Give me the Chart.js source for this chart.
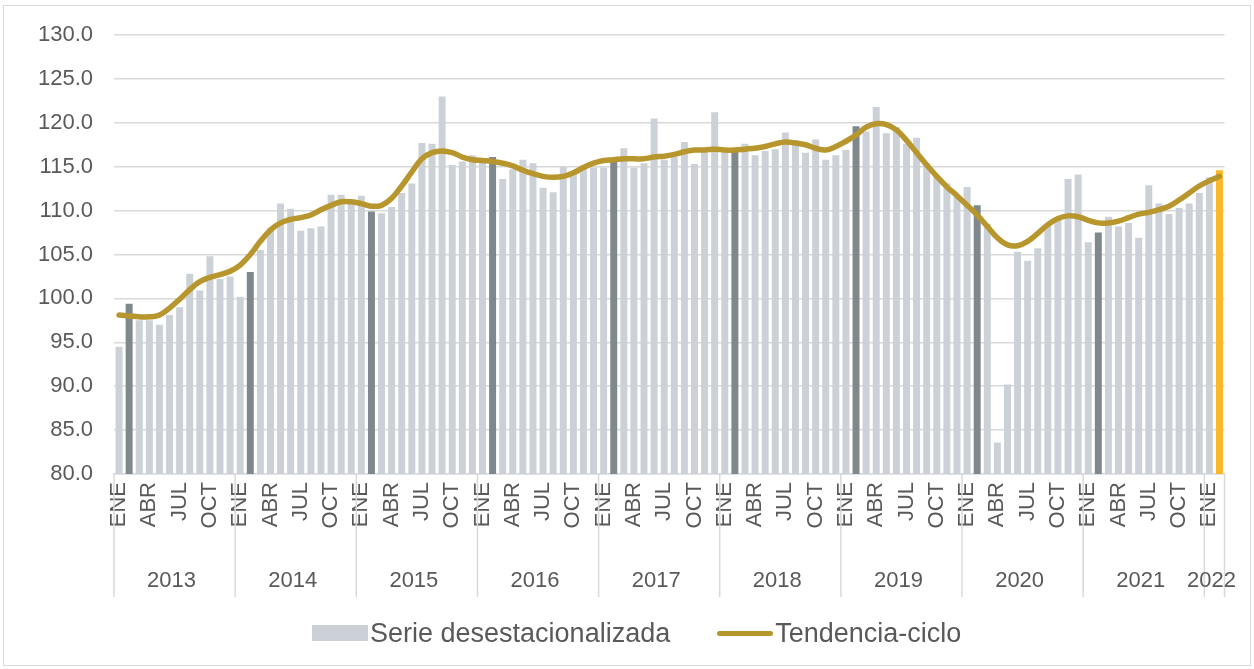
<!DOCTYPE html>
<html>
<head>
<meta charset="utf-8">
<script src="https://cdn.jsdelivr.net/npm/chart.js@4.4.0/dist/chart.umd.min.js"></script>
<style>
  html, body { margin: 0; padding: 0; background: #fff; }
  #wrap { position: relative; width: 1254px; height: 669px; }
  #frame { position: absolute; left: 3px; top: 5px; width: 1246px; height: 659px; border: 1px solid #d9d9d9; }
  canvas { position: absolute; left: 0; top: 0; }
  #legend { position: absolute; top: 618px; left: 312px; display: flex; align-items: center;
            font: 27px 'Liberation Sans', Arial, sans-serif; color: #595959; line-height: 30px; }
  #legend .box { width: 56px; height: 16px; margin-right: 2px; }
  #legend .ln { width: 56px; height: 5px; border-radius: 3px; margin-left: 47px; margin-right: 2px; }
</style>
</head>
<body>
<div id="wrap">
  <div id="frame"></div>
  <canvas id="chart" width="1254" height="669"></canvas>
  <div id="legend">
    <span class="box" id="lgBar"></span><span>Serie desestacionalizada</span>
    <span class="ln" id="lgLine"></span><span>Tendencia-ciclo</span>
  </div>
</div>
<script>
const monthNames = ['ENE', 'FEB', 'MAR', 'ABR', 'MAY', 'JUN', 'JUL', 'AGO', 'SEP', 'OCT', 'NOV', 'DIC'];
const years = ['2013', '2014', '2015', '2016', '2017', '2018', '2019', '2020', '2021', '2022'];
const yTicks = [80, 85, 90, 95, 100, 105, 110, 115, 120, 125, 130];

// serie desestacionalizada, ENE 2013 - FEB 2022
const serie = [
  94.5, 99.4, 97.5, 97.5, 97.0, 98.1, 99.0, 102.8, 100.9, 104.8, 102.2, 102.5,
  100.2, 103.0, 105.5, 108.0, 110.8, 110.2, 107.7, 108.0, 108.2, 111.8, 111.8, 111.2,
  111.7, 109.9, 109.7, 110.4, 112.0, 113.1, 117.7, 117.6, 123.0, 115.2, 115.6, 116.3,
  115.5, 116.1, 113.6, 114.7, 115.8, 115.4, 112.6, 112.1, 115.0, 114.3, 114.8, 114.9,
  114.9, 115.6, 117.1, 114.9, 115.4, 120.5, 115.8, 116.1, 117.8, 115.3, 116.7, 121.2,
  116.7, 116.7, 117.6, 116.3, 116.8, 117.0, 118.9, 118.0, 116.6, 118.1, 115.8, 116.3,
  116.9, 119.6, 119.0, 121.8, 118.8, 119.5, 117.6, 118.3, 115.4, 113.9, 113.1, 111.6,
  112.7, 110.6, 108.5, 83.6, 90.2, 105.3, 104.3, 105.7, 108.4, 109.1, 113.6, 114.1,
  106.4, 107.5, 109.3, 108.2, 108.6, 106.9, 112.9, 110.8, 109.6, 110.3, 110.8, 112.0,
  113.8, 114.6
];

// tendencia-ciclo
const tendencia = [
  98.1, 98.0, 97.9, 97.9, 98.1, 98.9, 99.9, 101.0, 101.9, 102.4, 102.7, 103.1,
  103.8, 105.0, 106.5, 107.8, 108.6, 109.0, 109.2, 109.5, 110.1, 110.6, 111.0, 111.0,
  110.8, 110.5, 110.6, 111.4, 112.8, 114.4, 115.9, 116.6, 116.8, 116.6, 116.1, 115.8,
  115.7, 115.6, 115.4, 115.1, 114.6, 114.2, 113.9, 113.8, 113.9, 114.3, 114.9, 115.4,
  115.7, 115.8, 115.9, 115.9, 115.9, 116.1, 116.2, 116.4, 116.7, 116.9, 116.9, 117.0,
  116.9, 116.9, 117.0, 117.1, 117.3, 117.6, 117.8, 117.7, 117.5, 117.1, 116.9, 117.3,
  117.9, 118.6, 119.5, 119.9, 119.8, 119.2, 118.0, 116.6, 115.2, 113.9, 112.7, 111.7,
  110.6, 109.5, 108.2, 106.9, 106.1, 106.0, 106.5, 107.4, 108.4, 109.1, 109.4, 109.3,
  108.9, 108.6, 108.6, 108.8, 109.2, 109.6, 109.8, 110.1, 110.5, 111.2, 112.0, 112.8,
  113.4, 113.9
];

const BAR = '#cbd1d7', BAR_FEB = '#7f888d', BAR_LAST = '#fbb829', LINE = '#b8962e';
const TXT = '#595959', GRID = '#d9d9d9';
const FONT = "'Liberation Sans', Arial, sans-serif";

const labels = serie.map((_, i) => monthNames[i % 12]);
const yearOf = serie.map((_, i) => years[Math.floor(i / 12)]);
const barColors = serie.map((_, i) =>
  i === serie.length - 1 ? BAR_LAST : (i % 12 === 1 ? BAR_FEB : BAR));

document.getElementById('lgBar').style.background = BAR;
document.getElementById('lgLine').style.background = LINE;

// year row under the month labels, with separators
const yearGroups = {
  id: 'yearGroups',
  afterDraw(chart) {
    const { ctx } = chart;
    const x = chart.scales.x;
    const half = (x.getPixelForValue(1) - x.getPixelForValue(0)) / 2;
    const top = x.top, bottom = 597;
    ctx.save();
    ctx.strokeStyle = GRID;
    ctx.lineWidth = 1.5;
    ctx.fillStyle = TXT;
    ctx.font = '22px ' + FONT;
    ctx.textAlign = 'center';
    ctx.textBaseline = 'middle';
    let start = 0;
    for (let i = 1; i <= yearOf.length; i++) {
      if (i === yearOf.length || yearOf[i] !== yearOf[start]) {
        const x0 = x.getPixelForValue(start) - half;
        const x1 = x.getPixelForValue(i - 1) + half;
        ctx.beginPath();
        ctx.moveTo(x0, top); ctx.lineTo(x0, bottom);
        if (i === yearOf.length) { ctx.moveTo(x1, top); ctx.lineTo(x1, bottom); }
        ctx.stroke();
        ctx.fillText(yearOf[start], (x0 + x1) / 2 - 3, 581);
        start = i;
      }
    }
    ctx.restore();
  }
};

new Chart(document.getElementById('chart'), {
  data: {
    labels: labels,
    datasets: [
      {
        type: 'line',
        label: 'Tendencia-ciclo',
        data: tendencia,
        borderColor: LINE,
        borderWidth: 5.5,
        borderCapStyle: 'round',
        pointRadius: 0,
        tension: 0.4,
        order: 0
      },
      {
        type: 'bar',
        label: 'Serie desestacionalizada',
        data: serie,
        backgroundColor: barColors,
        barPercentage: 0.69,
        categoryPercentage: 1,
        order: 1
      }
    ]
  },
  options: {
    responsive: false,
    animation: false,
    layout: { padding: { top: 35, right: 27, left: 0, bottom: 0 } },
    plugins: { legend: { display: false }, tooltip: { enabled: false } },
    scales: {
      x: {
        grid: { display: false, drawTicks: false },
        border: { display: true, color: GRID, width: 1.5 },
        afterFit: s => { s.height = 195; },
        ticks: {
          autoSkip: false,
          minRotation: 90,
          maxRotation: 90,
          padding: 8,
          color: TXT,
          font: { family: FONT, size: 22 },
          callback: (v, i) => (i % 3 === 0 ? labels[i] : '')
        }
      },
      y: {
        min: yTicks[0],
        max: yTicks[yTicks.length - 1],
        afterFit: s => { s.width = 114; },
        afterBuildTicks: s => { s.ticks = yTicks.map(v => ({ value: v })); },
        grid: { color: GRID, lineWidth: 1.5, drawTicks: false },
        border: { display: false },
        ticks: {
          padding: 21,
          color: TXT,
          font: { family: FONT, size: 22 },
          callback: v => v.toFixed(1)
        }
      }
    }
  },
  plugins: [yearGroups]
});
</script>
</body>
</html>
